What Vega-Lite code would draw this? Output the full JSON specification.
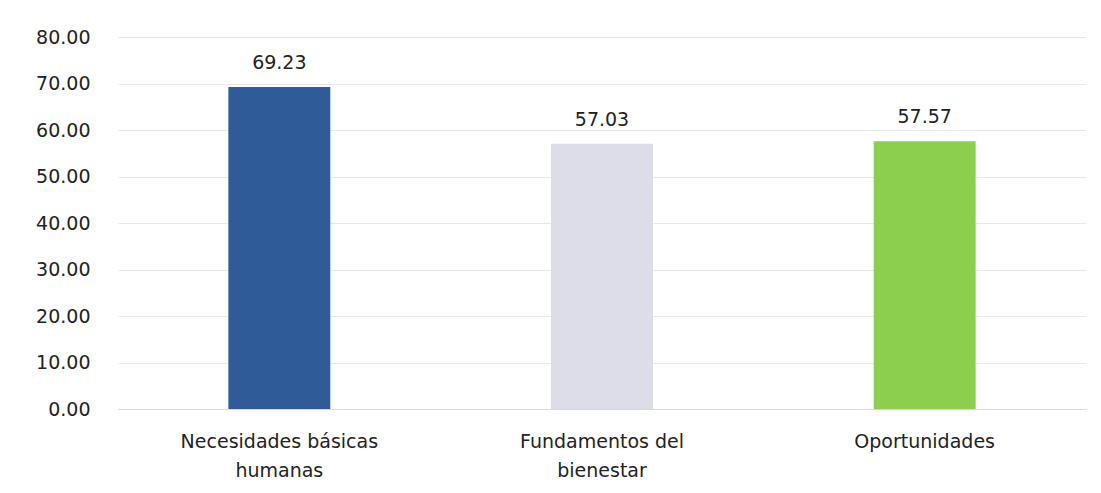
{
  "$schema": "https://vega.github.io/schema/vega-lite/v6.json",
  "width": 968,
  "height": 372,
  "autosize": "none",
  "padding": {"left": 118, "top": 37, "right": 15, "bottom": 84},
  "background": "white",
  "config": {
    "view": {"stroke": null},
    "font": "DejaVu Sans"
  },
  "data": {
    "values": [
      {"categoria": "Necesidades básicas humanas", "valor": 69.23, "color": "#2F5C98"},
      {"categoria": "Fundamentos del bienestar", "valor": 57.03, "color": "#DDDDEA"},
      {"categoria": "Oportunidades", "valor": 57.57, "color": "#8CCF4E"}
    ]
  },
  "encoding": {
    "x": {
      "field": "categoria",
      "type": "nominal",
      "sort": null,
      "scale": {"paddingInner": 0.684, "paddingOuter": 0.342},
      "axis": {
        "title": null,
        "labelAngle": 0,
        "labelFontSize": 19,
        "labelColor": "#222222",
        "labelPadding": 23,
        "labelLineHeight": 29,
        "labelLimit": 400,
        "ticks": false,
        "domainColor": "#D9D9D9",
        "labelExpr": "datum.label == 'Necesidades básicas humanas' ? ['Necesidades básicas', 'humanas'] : datum.label == 'Fundamentos del bienestar' ? ['Fundamentos del', 'bienestar'] : datum.label"
      }
    },
    "y": {
      "field": "valor",
      "type": "quantitative",
      "scale": {"domain": [0, 80]},
      "axis": {
        "title": null,
        "values": [0, 10, 20, 30, 40, 50, 60, 70, 80],
        "labelOverlap": false,
        "format": ".2f",
        "labelFontSize": 19,
        "labelColor": "#222222",
        "labelPadding": 28,
        "ticks": false,
        "domain": false,
        "gridColor": "#E8E8E8"
      }
    }
  },
  "layer": [
    {
      "mark": {"type": "bar"},
      "encoding": {
        "color": {"field": "color", "type": "nominal", "scale": null}
      }
    },
    {
      "mark": {"type": "text", "dy": -24, "fontSize": 19, "color": "#222222"},
      "encoding": {
        "text": {"field": "valor", "type": "quantitative", "format": ".2f"}
      }
    }
  ]
}
